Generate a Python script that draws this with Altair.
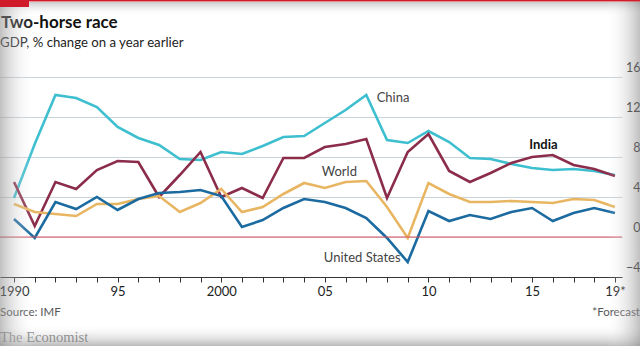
import altair as alt
import pandas as pd

years = list(range(1990, 2020))
china = [3.9, 9.3, 14.2, 13.9, 13.0, 11.0, 9.9, 9.2, 7.8, 7.7, 8.5, 8.3, 9.1, 10.0, 10.1,
         11.4, 12.7, 14.2, 9.7, 9.4, 10.6, 9.5, 7.9, 7.8, 7.3, 6.9, 6.7, 6.8, 6.6, 6.2]
india = [5.5, 1.1, 5.5, 4.8, 6.7, 7.6, 7.5, 4.0, 6.2, 8.5, 4.0, 4.9, 3.9, 7.9, 7.9,
         9.0, 9.3, 9.8, 3.9, 8.5, 10.3, 6.6, 5.5, 6.4, 7.4, 8.0, 8.2, 7.2, 6.8, 6.1]
world = [3.3, 2.5, 2.3, 2.1, 3.3, 3.3, 3.8, 4.1, 2.5, 3.4, 4.8, 2.5, 3.0, 4.3, 5.4,
         4.9, 5.5, 5.6, 3.0, -0.1, 5.4, 4.3, 3.5, 3.5, 3.6, 3.5, 3.4, 3.8, 3.7, 3.0]
us = [1.8, -0.1, 3.5, 2.8, 4.0, 2.7, 3.8, 4.4, 4.5, 4.7, 4.1, 1.0, 1.7, 2.9, 3.8,
      3.5, 2.9, 1.9, -0.1, -2.5, 2.6, 1.6, 2.2, 1.8, 2.5, 2.9, 1.6, 2.4, 2.9, 2.4]

series_names = ["World", "United States", "India", "China"]
series_colors = ["#e8b662", "#1b6aa0", "#8b2d4a", "#3ebfd0"]

y_ticks = [-4, 0, 4, 8, 12, 16]

label_names = ["China", "India", "World", "United States"]
label_years = [2007.5, 2015.55, 2004.85, 2004.95]
label_values = [13.9, 9.2, 6.5, -2.1]
label_weights = ["normal", "bold", "normal", "normal"]

FONT = "Lato"

rows = []
for name, vals in zip(["China", "India", "World", "United States"], [china, india, world, us]):
    for yr, v in zip(years, vals):
        rows.append({"year": yr, "value": v, "series": name})
df = pd.DataFrame(rows)

xscale = alt.Scale(domain=[1989.324, 2019.34], nice=False, zero=False)
yscale = alt.Scale(domain=[-4, 16], nice=False, zero=False)

label_expr = ("datum.value == 2019 ? '19*' : (datum.value % 5 != 0 ? '' : "
              "((datum.value == 1990 || datum.value == 2000) ? '' + datum.value : "
              "slice('' + datum.value, 2)))")

xaxis = alt.Axis(values=years, labelExpr=label_expr, title=None, grid=False,
                 domainColor="#333333", domainWidth=1, tickColor="#333333",
                 tickSize=5, labelPadding=3, labelFontSize=13, labelColor="#222222",
                 labelFont=FONT, labelOverlap=False, labelBound=False, labelFlush=False)
yaxis = alt.Axis(values=y_ticks, orient="right", title=None, domain=False, ticks=False,
                 grid=True, gridColor="#c9d3da", gridWidth=1, labelOverlap=False,
                 labelAlign="right", labelPadding=18, labelBaseline="bottom",
                 labelOffset=-3, labelFontSize=12.5, labelColor="#222222",
                 labelFont=FONT, labelBound=False, labelFlush=False)

base = alt.Chart(df)

lines = base.mark_line(strokeWidth=2.6, strokeJoin="miter").encode(
    x=alt.X("year:Q", scale=xscale, axis=xaxis),
    y=alt.Y("value:Q", scale=yscale, axis=yaxis),
    color=alt.Color("series:N", scale=alt.Scale(domain=series_names, range=series_colors),
                    legend=None),
    order=alt.Order("year:Q"),
    detail="series:N",
)

zero_df = pd.DataFrame({"value": [0]})
zero = alt.Chart(zero_df).mark_rule(color="#dc4f5c", strokeWidth=1).encode(
    y=alt.Y("value:Q", scale=yscale, axis=yaxis)
)

lab_df = pd.DataFrame({"name": label_names, "year": label_years, "value": label_values,
                       "weight": label_weights})
labels_normal = alt.Chart(lab_df[lab_df.weight == "normal"]).mark_text(
    align="left", baseline="middle", fontSize=13, font=FONT, color="#444444"
).encode(x=alt.X("year:Q", scale=xscale, axis=xaxis),
         y=alt.Y("value:Q", scale=yscale, axis=yaxis), text="name:N")
labels_bold = alt.Chart(lab_df[lab_df.weight == "bold"]).mark_text(
    align="center", baseline="middle", fontSize=13, font=FONT, fontWeight="bold", color="#111111"
).encode(x=alt.X("year:Q", scale=xscale, axis=xaxis),
         y=alt.Y("value:Q", scale=yscale, axis=yaxis), text="name:N")


def txt(s, x, y, size, color, weight="normal", align="left", font=FONT):
    return alt.Chart(pd.DataFrame({"t": [s]})).mark_text(
        align=align, baseline="middle", fontSize=size, font=font, fontWeight=weight, color=color
    ).encode(x=alt.value(x), y=alt.value(y), text="t:N")


def rect(x, x2, y, y2, fill):
    return alt.Chart(pd.DataFrame({"a": [0]})).mark_rect(fill=fill, strokeWidth=0).encode(
        x=alt.value(x), x2=alt.value(x2), y=alt.value(y), y2=alt.value(y2))


TOP = 77
title = txt("Two-horse race", 1, 23 - TOP, 17, "#111111", weight="bold")
subtitle = txt("GDP, % change on a year earlier", 0, 43 - TOP, 13.2, "#222222")
source = txt("Source: IMF", 0, 313 - TOP, 11.5, "#555555")
forecast = txt("*Forecast", 640, 313 - TOP, 11.5, "#555555", align="right")
econ = txt("The Economist", 0, 338 - TOP, 14.5, "#777777", font="Liberation Serif")

red_top = rect(0, 640, -TOP, -TOP + 1.5, "#d01c2a")
red_box = rect(0, 29, -TOP, -TOP + 7, "#d01c2a")


def grad(x1, y1, x2, y2, c1, c2):
    return alt.LinearGradient(gradient="linear", x1=x1, y1=y1, x2=x2, y2=y2,
                              stops=[alt.GradientStop(color=c1, offset=0),
                                     alt.GradientStop(color=c2, offset=1)])


shade_top = rect(0, 640, -TOP + 2, -TOP + 16, grad(0, 0, 0, 1, "rgba(150,150,150,0.5)", "rgba(255,255,255,0)"))
shade_bottom = rect(0, 640, 324 - TOP, 346 - TOP, grad(0, 0, 0, 1, "rgba(255,255,255,0)", "rgba(140,140,140,0.6)"))
shade_left = rect(0, 34, -TOP, 346 - TOP, grad(0, 0, 1, 0, "rgba(140,140,140,0.55)", "rgba(255,255,255,0)"))
shade_right = rect(606, 640, -TOP, 346 - TOP, grad(0, 0, 1, 0, "rgba(255,255,255,0)", "rgba(140,140,140,0.55)"))

chart = alt.layer(
    lines, zero, labels_normal, labels_bold,
    title, subtitle, source, forecast, econ,
    shade_top, shade_bottom, shade_left, shade_right,
    red_top, red_box,
).properties(
    width=622, height=200,
    padding={"left": 0, "top": TOP, "right": 18, "bottom": 69},
    autosize=alt.AutoSizeParams(type="none"),
    background="white",
).configure_view(stroke=None)

chart.save("out.html", embed_options={"renderer": "svg", "actions": False})
